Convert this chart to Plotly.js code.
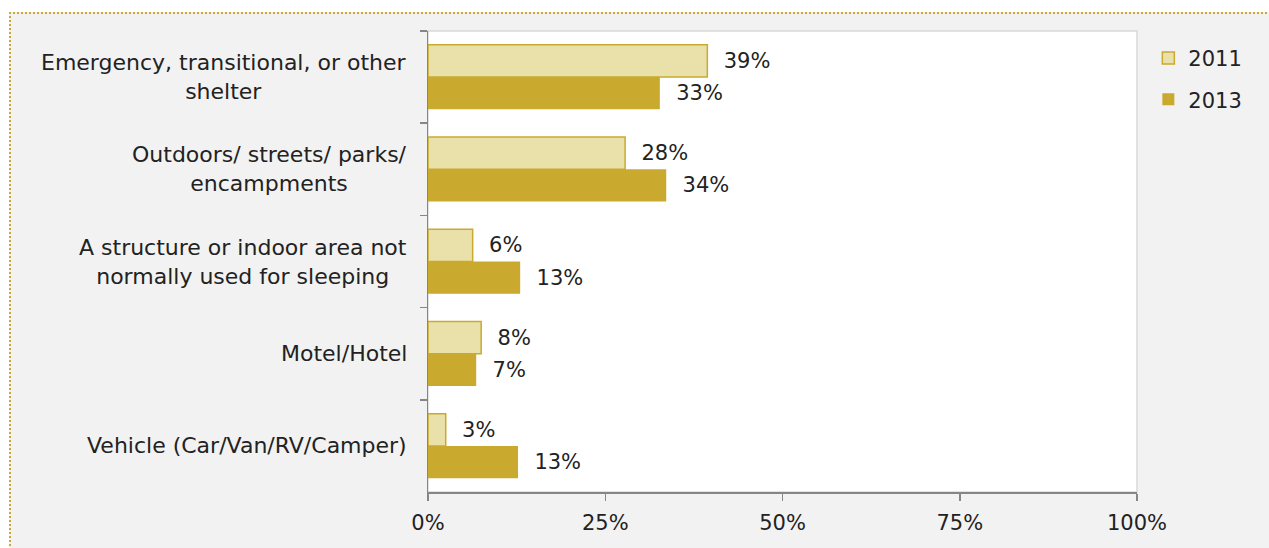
<!DOCTYPE html>
<html><head><meta charset="utf-8">
<script src="https://cdn.plot.ly/plotly-3.0.1.min.js"></script>
<style>
html,body{margin:0;padding:0;background:#fff;width:1269px;height:548px;overflow:hidden;}
#wrap{position:absolute;left:9px;top:12px;width:1260px;height:536px;border-top:2px dotted #c9aa2f;border-left:2px dotted #c9aa2f;background:#f2f2f2;}
#chart{width:1258px;height:534px;}
</style></head>
<body><div id="wrap"><div id="chart"></div></div>
<script>
const categories = [
  "Emergency, transitional, or other<br>shelter",
  "Outdoors/ streets/ parks/<br>encampments",
  "A structure or indoor area not<br>normally used for sleeping",
  "Motel/Hotel",
  "Vehicle (Car/Van/RV/Camper)"
];
const values2011 = [39.4, 27.8, 6.3, 7.5, 2.5];
const values2013 = [32.7, 33.6, 13.0, 6.8, 12.7];
const labels2011 = ["39%", "28%", "6%", "8%", "3%"];
const labels2013 = ["33%", "34%", "13%", "7%", "13%"];
const xTickVals = [0, 25, 50, 75, 100];
const xTickText = ["0%", "25%", "50%", "75%", "100%"];

const FONT = "DejaVu Sans, sans-serif";
const TXT = "#222222";
const gold = "#c9aa2f";

const traces = [
  {type:"bar", orientation:"h", name:"2011", y:categories, x:values2011,
   text:labels2011, texttemplate:"\u00a0\u00a0%{text}", textposition:"outside", cliponaxis:false,
   textfont:{family:FONT,size:21,color:TXT},
   marker:{color:"#eae0aa", line:{color:gold,width:1.5}}, legendgroup:"a", hoverinfo:"skip"},
  {type:"bar", orientation:"h", name:"2013", y:categories, x:values2013,
   text:labels2013, texttemplate:"\u00a0\u00a0%{text}", textposition:"outside", cliponaxis:false,
   textfont:{family:FONT,size:21,color:TXT},
   marker:{color:gold, line:{color:gold,width:0}}, legendgroup:"b", hoverinfo:"skip"}
];

const annotations = categories.map(c => ({
  xref:"paper", yref:"y", x:0, y:c, xanchor:"right", yanchor:"middle", xshift:-19,
  text:c, align:"center", showarrow:false, font:{family:FONT,size:22,color:TXT}
}));

const layout = {
  width:1258, height:534,
  margin:{l:417, r:132, t:17, b:56},
  paper_bgcolor:"#f2f2f2", plot_bgcolor:"#ffffff",
  barmode:"group", bargap:0.3, bargroupgap:0,
  font:{family:FONT,size:21,color:TXT},
  showlegend:true,
  legend:{x:1.016, y:0.985, xanchor:"left", yanchor:"top", traceorder:"grouped", tracegroupgap:11,
          itemwidth:30, font:{family:FONT,size:21,color:TXT}, bgcolor:"rgba(0,0,0,0)"},
  xaxis:{range:[0,100], tickmode:"array", tickvals:xTickVals, ticktext:xTickText,
         ticks:"outside", ticklen:7, tickcolor:"#868686", tickwidth:1.5, ticklabelstandoff:4,
         showline:true, linecolor:"#868686", linewidth:1.5, showgrid:false, zeroline:false,
         tickfont:{family:FONT,size:21,color:TXT}, fixedrange:true},
  yaxis:{type:"category", autorange:"reversed", showticklabels:false, ticks:"outside", tickson:"boundaries",
         ticklen:7, tickcolor:"#868686", tickwidth:1.5, showline:true, linecolor:"#868686", linewidth:1.5,
         showgrid:false, zeroline:false, fixedrange:true},
  shapes:[{type:"rect", xref:"paper", yref:"paper", x0:0, x1:1, y0:0, y1:1, layer:"below",
           line:{color:"#d9d9d9", width:1.5}, fillcolor:"rgba(0,0,0,0)"}],
  annotations:annotations
};
Plotly.newPlot("chart", traces, layout, {displayModeBar:false, staticPlot:true});
</script></body></html>
